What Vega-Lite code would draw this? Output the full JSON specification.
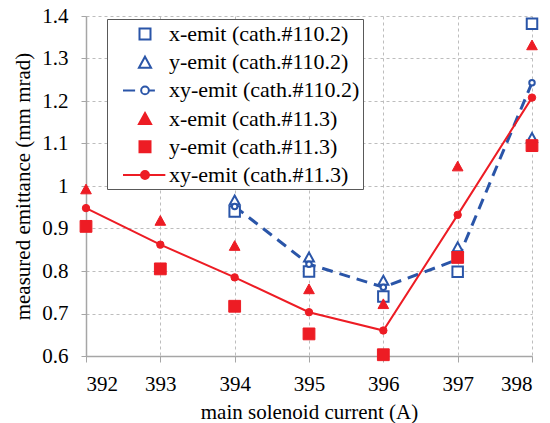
{
  "$schema": "https://vega.github.io/schema/vega-lite/v6.json",
  "width": 446,
  "height": 340,
  "autosize": {"type": "none"},
  "padding": {"left": 86, "top": 16, "right": 18, "bottom": 67},
  "background": "white",
  "config": {
    "view": {"stroke": null},
    "axis": {
      "labelFont": "Liberation Serif",
      "labelFontSize": 21,
      "labelColor": "black",
      "titleFont": "Liberation Serif",
      "titleFontSize": 21,
      "titleFontWeight": "normal",
      "titleColor": "black",
      "domainColor": "#a6a6a6",
      "domainWidth": 1.5,
      "tickColor": "#a6a6a6",
      "gridColor": "#bdbdbd",
      "gridDash": [3, 3],
      "gridWidth": 1
    }
  },
  "data": {
    "values": [
      {"current": 394, "series": "x-emit (cath.#110.2)", "emittance": 0.94},
      {"current": 395, "series": "x-emit (cath.#110.2)", "emittance": 0.799},
      {"current": 396, "series": "x-emit (cath.#110.2)", "emittance": 0.74},
      {"current": 397, "series": "x-emit (cath.#110.2)", "emittance": 0.798},
      {"current": 398, "series": "x-emit (cath.#110.2)", "emittance": 1.382},
      {"current": 394, "series": "y-emit (cath.#110.2)", "emittance": 0.967},
      {"current": 395, "series": "y-emit (cath.#110.2)", "emittance": 0.833},
      {"current": 396, "series": "y-emit (cath.#110.2)", "emittance": 0.778},
      {"current": 397, "series": "y-emit (cath.#110.2)", "emittance": 0.857},
      {"current": 398, "series": "y-emit (cath.#110.2)", "emittance": 1.114},
      {"current": 394, "series": "xy-emit (cath.#110.2)", "emittance": 0.952},
      {"current": 395, "series": "xy-emit (cath.#110.2)", "emittance": 0.816},
      {"current": 396, "series": "xy-emit (cath.#110.2)", "emittance": 0.762},
      {"current": 397, "series": "xy-emit (cath.#110.2)", "emittance": 0.827},
      {"current": 398, "series": "xy-emit (cath.#110.2)", "emittance": 1.243},
      {"current": 392, "series": "x-emit (cath.#11.3)", "emittance": 0.993},
      {"current": 393, "series": "x-emit (cath.#11.3)", "emittance": 0.919},
      {"current": 394, "series": "x-emit (cath.#11.3)", "emittance": 0.86},
      {"current": 395, "series": "x-emit (cath.#11.3)", "emittance": 0.758},
      {"current": 396, "series": "x-emit (cath.#11.3)", "emittance": 0.723},
      {"current": 397, "series": "x-emit (cath.#11.3)", "emittance": 1.047},
      {"current": 398, "series": "x-emit (cath.#11.3)", "emittance": 1.332},
      {"current": 392, "series": "y-emit (cath.#11.3)", "emittance": 0.905},
      {"current": 393, "series": "y-emit (cath.#11.3)", "emittance": 0.805},
      {"current": 394, "series": "y-emit (cath.#11.3)", "emittance": 0.717},
      {"current": 395, "series": "y-emit (cath.#11.3)", "emittance": 0.652},
      {"current": 396, "series": "y-emit (cath.#11.3)", "emittance": 0.603},
      {"current": 397, "series": "y-emit (cath.#11.3)", "emittance": 0.832},
      {"current": 398, "series": "y-emit (cath.#11.3)", "emittance": 1.095},
      {"current": 392, "series": "xy-emit (cath.#11.3)", "emittance": 0.948},
      {"current": 393, "series": "xy-emit (cath.#11.3)", "emittance": 0.862},
      {"current": 394, "series": "xy-emit (cath.#11.3)", "emittance": 0.785},
      {"current": 395, "series": "xy-emit (cath.#11.3)", "emittance": 0.703},
      {"current": 396, "series": "xy-emit (cath.#11.3)", "emittance": 0.66},
      {"current": 397, "series": "xy-emit (cath.#11.3)", "emittance": 0.932},
      {"current": 398, "series": "xy-emit (cath.#11.3)", "emittance": 1.208}
    ]
  },
  "encoding": {
    "x": {
      "field": "current",
      "type": "quantitative",
      "scale": {"domain": [392, 398], "nice": false, "zero": false},
      "axis": {
        "title": "main solenoid current (A)",
        "values": [392, 393, 394, 395, 396, 397, 398],
        "tickSize": 6,
        "labelPadding": 11,
        "titlePadding": 7,
        "labelFont": "Liberation Serif",
        "titleFont": "Liberation Serif"
      }
    },
    "y": {
      "field": "emittance",
      "type": "quantitative",
      "scale": {"domain": [0.6, 1.4], "nice": false, "zero": false},
      "axis": {
        "title": "measured emittance (mm mrad)",
        "values": [0.6, 0.7, 0.8, 0.9, 1, 1.1, 1.2, 1.3, 1.4],
        "format": "~g",
        "tickSize": 5,
        "labelPadding": 13,
        "titlePadding": 8,
        "labelFont": "Liberation Serif",
        "titleFont": "Liberation Serif"
      }
    },
    "shape": {
      "field": "series",
      "type": "nominal",
      "scale": {
        "domain": ["x-emit (cath.#110.2)", "y-emit (cath.#110.2)", "xy-emit (cath.#110.2)", "x-emit (cath.#11.3)", "y-emit (cath.#11.3)", "xy-emit (cath.#11.3)"],
        "range": [
          "M-0.5,-0.5H0.5V0.5H-0.5Z",
          "M0,-0.5L0.55,0.5H-0.55Z",
          "M-2,0H-0.9M-0.35,0A0.35,0.35,0,1,1,0.35,0A0.35,0.35,0,1,1,-0.35,0ZM0.35,0H0.9",
          "M0,-0.5L0.55,0.5H-0.55Z",
          "M-0.5,-0.5H0.5V0.5H-0.5Z",
          "M-2,0H1.85M-0.36,0A0.36,0.36,0,1,1,0.36,0A0.36,0.36,0,1,1,-0.36,0Z"
        ]
      },
      "legend": {
        "orient": "none",
        "legendX": 21,
        "legendY": 3,
        "direction": "vertical",
        "title": null,
        "padding": 3,
        "strokeColor": "#595959",
        "fillColor": "white",
        "symbolSize": 484,
        "symbolStrokeWidth": 2,
        "symbolOpacity": 1,
        "symbolOffset": 23,
        "labelOffset": 12,
        "rowPadding": 5.2,
        "labelFont": "Liberation Serif",
        "labelFontSize": 22,
        "labelColor": "black",
        "labelLimit": 0,
        "labelExpr": "datum.label + '\u00a0\u00a0\u00a0'"
      }
    },
    "fill": {
      "field": "series",
      "type": "nominal",
      "scale": {
        "domain": ["x-emit (cath.#110.2)", "y-emit (cath.#110.2)", "xy-emit (cath.#110.2)", "x-emit (cath.#11.3)", "y-emit (cath.#11.3)", "xy-emit (cath.#11.3)"],
        "range": ["white", "white", "white", "#ed1c24", "#ed1c24", "#ed1c24"]
      }
    },
    "stroke": {
      "field": "series",
      "type": "nominal",
      "scale": {
        "domain": ["x-emit (cath.#110.2)", "y-emit (cath.#110.2)", "xy-emit (cath.#110.2)", "x-emit (cath.#11.3)", "y-emit (cath.#11.3)", "xy-emit (cath.#11.3)"],
        "range": ["#2a55a8", "#2a55a8", "#2a55a8", "#ed1c24", "#ed1c24", "#ed1c24"]
      }
    }
  },
  "layer": [
    {
      "transform": [{"filter": "datum.series === 'xy-emit (cath.#110.2)'"}],
      "mark": {"type": "line", "color": "#2a55a8", "strokeWidth": 3, "strokeDash": [11, 7]},
      "encoding": {"shape": null, "fill": null, "stroke": null}
    },
    {
      "transform": [{"filter": "datum.series === 'x-emit (cath.#110.2)'"}],
      "mark": {"type": "point", "filled": true, "strokeWidth": 2, "opacity": 1, "size": 441}
    },
    {
      "transform": [{"filter": "datum.series === 'y-emit (cath.#110.2)'"}],
      "mark": {"type": "point", "filled": true, "strokeWidth": 2, "opacity": 1, "size": 324}
    },
    {
      "transform": [{"filter": "datum.series === 'xy-emit (cath.#110.2)'"}],
      "mark": {"type": "point", "shape": "circle", "filled": true, "fill": "white", "stroke": "#2a55a8", "strokeWidth": 2, "opacity": 1, "size": 30},
      "encoding": {"shape": null, "fill": null, "stroke": null}
    },
    {
      "transform": [{"filter": "datum.series === 'xy-emit (cath.#11.3)'"}],
      "mark": {"type": "line", "color": "#ed1c24", "strokeWidth": 2},
      "encoding": {"shape": null, "fill": null, "stroke": null}
    },
    {
      "transform": [{"filter": "datum.series === 'x-emit (cath.#11.3)'"}],
      "mark": {"type": "point", "filled": true, "strokeWidth": 1, "opacity": 1, "size": 376}
    },
    {
      "transform": [{"filter": "datum.series === 'y-emit (cath.#11.3)'"}],
      "mark": {"type": "point", "filled": true, "strokeWidth": 1, "opacity": 1, "size": 557}
    },
    {
      "transform": [{"filter": "datum.series === 'xy-emit (cath.#11.3)'"}],
      "mark": {"type": "point", "shape": "circle", "filled": true, "fill": "#ed1c24", "stroke": "#ed1c24", "strokeWidth": 1, "opacity": 1, "size": 55},
      "encoding": {"shape": null, "fill": null, "stroke": null}
    }
  ]
}
